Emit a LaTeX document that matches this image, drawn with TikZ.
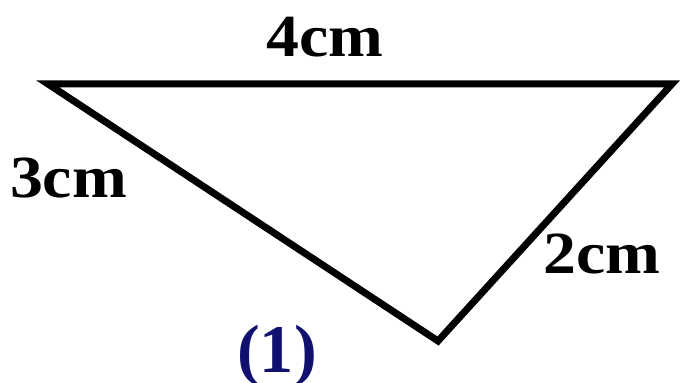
\documentclass[tikz,border=0pt]{standalone}
\usepackage{fontspec}
\setmainfont{Liberation Serif}
\newfontfamily\widefont[FakeStretch=1.1]{Liberation Serif}
\usepackage{tikz}
\usetikzlibrary{positioning}
\definecolor{navyblue}{RGB}{16,16,110}

\begin{document}
\begin{tikzpicture}[x=0.01cm, y=-0.01cm,
    side/.style={line width=0.07cm, line join=miter},
    len/.style={font=\widefont\fontsize{17pt}{20pt}\selectfont\bfseries, inner sep=0pt, anchor=base},
    tag/.style={font=\fontsize{19.4pt}{22pt}\selectfont\bfseries, inner sep=0pt, anchor=base, text=navyblue}
]
\useasboundingbox (0,0) rectangle (681,383);
\coordinate (l) at (48,84);
\coordinate (r) at (672,84);
\coordinate (b) at (438,341);

\draw[side] (l) -- (r) -- (b) -- cycle;

\node[len] (top) at (325,57) {4cm};
\node[len] (left) at (68.5,198) {3cm};
\node[len] (right) at (602,274) {2cm};
\node[tag] (num) at (277,373) {(1)};
\end{tikzpicture}
\end{document}
